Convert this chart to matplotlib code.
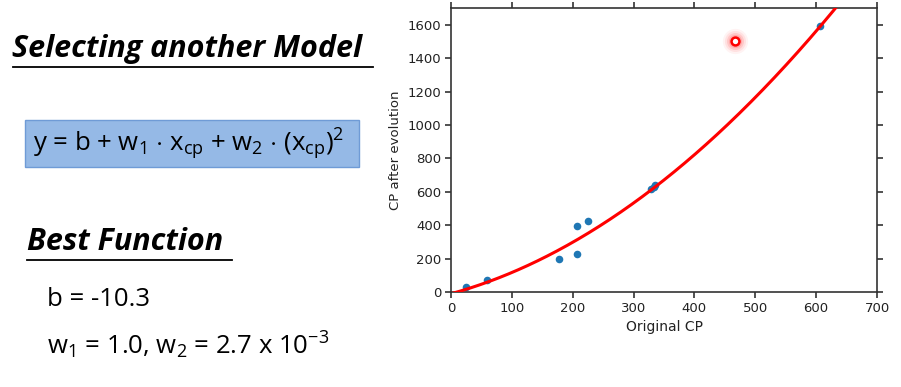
import matplotlib
matplotlib.use("Agg")
import matplotlib.pyplot as plt
import numpy as np
from matplotlib.patches import Rectangle

plt.rcParams['mathtext.fontset'] = 'custom'
plt.rcParams['mathtext.rm'] = 'Open Sans'
plt.rcParams['mathtext.it'] = 'Open Sans'

# Data
orig_cp = [24.7, 58.7, 177.6, 206.7, 206.7, 225.3, 328.4, 332.8, 336.0, 605.8]
evolved_cp = [30, 70, 198, 226, 394, 426, 616, 630, 638, 1594]
outlier_x = [466]
outlier_y = [1504]
b, w1, w2 = -10.3, 1.0, 2.7e-3
xticks = [0, 100, 200, 300, 400, 500, 600, 700]
yticks = [0, 200, 400, 600, 800, 1000, 1200, 1400, 1600]

W, H = 901, 387
fig = plt.figure(figsize=(W / 100, H / 100), dpi=100)
fig.patch.set_facecolor('white')

ax = fig.add_axes([451 / W, 1 - 292 / H, (877 - 451) / W, (292 - 8) / H])
xs = np.linspace(0, 700, 400)
ax.plot(xs, b + w1 * xs + w2 * xs ** 2, color='#ff0000', lw=2.2, zorder=3)
ax.scatter(orig_cp, evolved_cp, s=30, color='#1f77b4', zorder=2, linewidths=0)
# glow around outlier
for s, a in [(330, 0.06), (230, 0.09), (150, 0.14), (90, 0.2)]:
    ax.scatter(outlier_x, outlier_y, s=s, color='#ff3333', alpha=a, linewidths=0, zorder=4)
ax.scatter(outlier_x, outlier_y, s=32, facecolor='white', edgecolor='#ff0000', linewidths=1.8, zorder=5)

ax.set_xlim(0, 700)
ax.set_ylim(0, 1700)
ax.set_xticks(xticks)
ax.set_yticks(yticks)
ax.tick_params(direction='out', top=True, right=True, length=4.5, width=1.1, pad=2.5,
               labelsize=9.5, colors='#222222')
for sp in ax.spines.values():
    sp.set_linewidth(1.2)
    sp.set_color('#333333')
ax.set_xlabel('Original CP', fontsize=10, color='#222222', labelpad=4)
ax.set_ylabel('CP after evolution', fontsize=9.5, color='#222222', labelpad=4)

# Left text
def underline_title(txt, x, y, x0, x1, uy, size):
    fig.text(x / W, 1 - y / H, txt, fontsize=size, fontweight='bold', fontstyle='italic',
             family='Open Sans', va='center', ha='left', color='black')
    fig.add_artist(plt.Line2D([x0 / W, x1 / W], [1 - uy / H, 1 - uy / H], color='black', lw=1.3))

underline_title('Selecting another Model', 12, 49, 13, 373, 67, 22)
underline_title('Best Function', 27, 242, 27, 232, 260, 22)

box = Rectangle((25 / W, 1 - 167 / H), (359 - 25) / W, 47 / H, transform=fig.transFigure,
                facecolor='#95b9e6', edgecolor='#6f9bd6', lw=1.0)
fig.add_artist(box)
fig.text(33 / W, 1 - 144 / H, r'y = b + w$_1$ $\cdot$ x$_{\mathrm{cp}}$ + w$_2$ $\cdot$ (x$_{\mathrm{cp}}$)$^2$',
         fontsize=18.5, family='Open Sans', va='center', ha='left', color='black')

fig.text(47 / W, 1 - 300 / H, 'b = -10.3', fontsize=18.5, family='Open Sans', va='center', ha='left')
fig.text(47 / W, 1 - 345 / H, r'w$_1$ = 1.0, w$_2$ = 2.7 x 10$^{-3}$', fontsize=18.5,
         family='Open Sans', va='center', ha='left')

fig.savefig('out.png', dpi=100)
